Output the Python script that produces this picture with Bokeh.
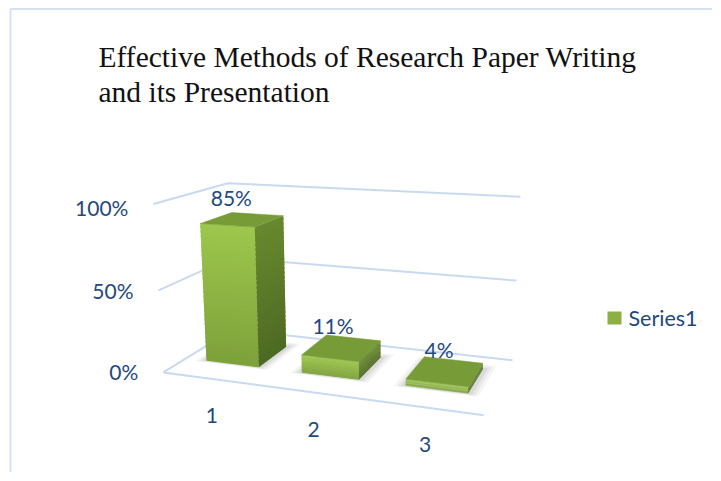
import numpy as np
from bokeh.plotting import figure
from bokeh.models import Range1d
from bokeh.embed import file_html
from bokeh.resources import INLINE
from bokeh.core.properties import value

# ---------------- data ----------------
title_lines = ["Effective Methods of Research Paper Writing", "and its Presentation"]
categories = ["1", "2", "3"]
series_name = "Series1"
values = [0.85, 0.11, 0.04]
value_labels = ["85%", "11%", "4%"]
y_ticks = [0.0, 0.5, 1.0]
y_tick_labels = ["0%", "50%", "100%"]

# ---------------- 3D camera (layout) ----------------
# world box: X = category axis (0..3), Y = value (0..1), Z = depth (0 front .. 1 back)
world_pts = np.array([
    [0, 0, 0], [0, 1, 0], [0, 1, 1], [3, 1, 1],
    [3, 0, 1], [3, 0, 0], [3, 0.5, 1], [0, 0.5, 0],
], float)
screen_pts = np.array([
    [163, 372], [153, 203], [227, 183], [520, 197],
    [512, 360], [483, 415], [516, 279], [158, 290],
], float)


def fit_camera(W, S):
    mu = S.mean(axis=0)
    sc = 100.0
    Sn = (S - mu) / sc
    A = []
    for (X, Y, Z), (u, v) in zip(W, Sn):
        A.append([X, Y, Z, 1, 0, 0, 0, 0, -u * X, -u * Y, -u * Z, -u])
        A.append([0, 0, 0, 0, X, Y, Z, 1, -v * X, -v * Y, -v * Z, -v])
    _, _, Vt = np.linalg.svd(np.array(A, float))
    M = Vt[-1].reshape(3, 4)
    return M, mu, sc


CAM, MU, SC = fit_camera(world_pts, screen_pts)


def P(X, Y, Z):
    h = CAM @ np.array([X, Y, Z, 1.0])
    return (h[0] / h[2]) * SC + MU[0], (h[1] / h[2]) * SC + MU[1]


def poly(pts):
    xy = [P(*q) for q in pts]
    return [a for a, _ in xy], [b for _, b in xy]


def mix(c1, c2, t):
    a = [int(c1[i:i + 2], 16) for i in (1, 3, 5)]
    b = [int(c2[i:i + 2], 16) for i in (1, 3, 5)]
    return "#%02x%02x%02x" % tuple(int(round(a[k] + (b[k] - a[k]) * t)) for k in range(3))


# ---------------- figure ----------------
W, H = 712, 472
p = figure(width=W, height=H, x_range=Range1d(0, W), y_range=Range1d(H, 0),
           output_backend="svg", toolbar_location=None, x_axis_type=None, y_axis_type=None,
           min_border=0)
p.grid.visible = False
p.outline_line_color = None
p.background_fill_color = "white"
p.border_fill_color = "white"

FONT = "Lato"
TXT = "#1F497D"
GRID = "#C9DAF0"

# chart frame
p.line([10, 10, W], [H, 8.5, 8.5], line_color="#D6E2F2", line_width=2)

# title
p.text(x=[98, 98], y=[56, 91], text=title_lines, text_font=value("Liberation Serif"),
       text_font_size="29.5px", text_color="#111111", text_baseline="alphabetic", text_align="left")

# walls gridlines
for t in y_ticks:
    xs, ys = poly([(0, t, 0), (0, t, 1), (3, t, 1)])
    p.line(xs, ys, line_color=GRID, line_width=2)
# category axis line (front floor edge)
xs, ys = poly([(0, 0, 0), (3, 0, 0)])
p.line(xs, ys, line_color=GRID, line_width=2)

# tick labels
for t, lab in zip(y_ticks, y_tick_labels):
    u, v = P(0, t, 0)
    p.text(x=[u - 25], y=[v - 0.5 + 4.5 * t * t], text=[lab], text_font=value(FONT),
           text_font_size="21px", text_color=TXT, text_align="right", text_baseline="middle")

# category labels
for i, lab in enumerate(categories):
    u, v = P(i + 0.5, 0, 0)
    p.text(x=[u + 1], y=[v + 37], text=[lab], text_font=value(FONT), text_font_size="21px",
           text_color=TXT, text_align="center", text_baseline="middle")

# bars
HW = 0.28
Z0, Z1 = 0.30, 0.75
NSL = 30
for i, val in enumerate(values):
    c = i + 0.5
    x0, x1 = c - HW, c + HW
    # soft shadow on floor
    for k, a in enumerate([0.06, 0.08, 0.10]):
        e = 0.10 - k * 0.03
        sx, sy = poly([(x0 - e, 0, Z0 - e * 0.3), (x1 + e, 0, Z0 - e * 0.3),
                       (x1 + e, 0, Z1 + e), (x0 - e, 0, Z1 + e)])
        p.patch(sx, sy, fill_color="#555555", fill_alpha=a, line_color=None)
    # front face gradient (overlapping slices, bottom to top)
    fx, fy, fc = [], [], []
    for s in range(NSL):
        ya = val * s / NSL
        yb = min(val, val * (s + 1.6) / NSL)
        xs_, ys_ = poly([(x0, ya, Z0), (x1, ya, Z0), (x1, yb, Z0), (x0, yb, Z0)])
        fx.append(xs_); fy.append(ys_)
        fc.append(mix("#7DA13A", "#9DC74C", (s + 0.5) / NSL))
    p.patches(fx, fy, fill_color=fc, line_color=None)
    # side face gradient
    sxl, syl, sc_ = [], [], []
    for s in range(NSL):
        ya = val * s / NSL
        yb = min(val, val * (s + 1.6) / NSL)
        xs_, ys_ = poly([(x1, ya, Z0), (x1, ya, Z1), (x1, yb, Z1), (x1, yb, Z0)])
        sxl.append(xs_); syl.append(ys_)
        sc_.append(mix("#4D6922", "#68892F", (s + 0.5) / NSL))
    p.patches(sxl, syl, fill_color=sc_, line_color=None)
    # top face
    tx, ty = poly([(x0, val, Z0), (x1, val, Z0), (x1, val, Z1), (x0, val, Z1)])
    p.patch(tx, ty, fill_color="#779B37", line_color="#779B37", line_width=0.5)
    # value label
    u, v = P(c - 0.1 + 0.03 * i, val, (Z0 + Z1) / 2)
    p.text(x=[u - 2], y=[v - 21], text=[value_labels[i]], text_font=value(FONT), text_font_size="21px",
           text_color=TXT, text_align="center", text_baseline="middle")

# legend
p.quad(left=[607], right=[621], top=[311], bottom=[324], fill_color="#8DB043", line_color=None)
p.text(x=[628], y=[317], text=[series_name], text_font=value(FONT), text_font_size="21.5px",
       text_color=TXT, text_align="left", text_baseline="middle")

open("out.html", "w").write(file_html(p, INLINE))
